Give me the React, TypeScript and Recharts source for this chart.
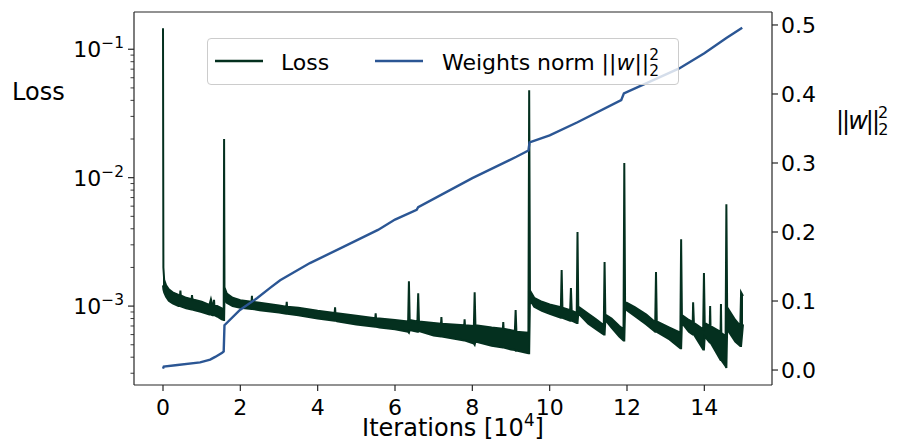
import React from 'react';
import { ComposedChart, Area, Line, XAxis, YAxis, Legend, ReferenceLine } from 'recharts';

const FONT = '"DejaVu Sans", sans-serif';
const LOSS_COLOR = '#04301f';
const NORM_COLOR = '#2b5694';
const AXIS_COLOR = '#262626';

// iterations are in units of 1e4; every spike is a narrow triple of points
const lossIters = [
  0.0, 0.01, 0.03, 0.08, 0.15, 0.25, 0.4, 0.44, 0.45, 0.46, 0.6, 0.74, 0.75, 0.76, 0.8, 1.0, 1.2, 1.24, 1.28, 1.31, 1.32, 1.33, 1.4, 1.52, 1.57, 1.58,
  1.59, 1.65, 1.8, 2.0, 2.29, 2.3, 2.31, 2.5, 3.0, 3.19, 3.2, 3.21, 3.5, 4.0, 4.44, 4.45, 4.46, 4.5, 5.0, 5.49, 5.5, 5.51, 5.6, 6.0, 6.34, 6.36, 6.38, 6.58, 6.6, 6.62,
  7.0, 7.19, 7.2, 7.21, 7.5, 7.79, 7.8, 7.81, 8.04, 8.06, 8.08, 8.5, 8.79, 8.8, 8.81, 9.0, 9.1, 9.12, 9.14, 9.45, 9.47,
  9.49, 9.6, 9.8, 10.0, 10.29, 10.31, 10.33, 10.53, 10.55, 10.57, 10.7, 10.72, 10.74,
  11.0, 11.2, 11.4, 11.42, 11.44, 11.6, 11.8, 11.91, 11.93,
  11.95, 12.2, 12.5, 12.73, 12.75, 12.77, 13.1, 13.38, 13.4, 13.42, 13.6, 13.7, 13.71, 13.73,
  13.97, 13.99, 14.01, 14.14, 14.15, 14.16, 14.42, 14.43, 14.44, 14.55, 14.57, 14.59,
  14.8, 14.93, 14.95, 15.0,
];
const lossLow = [
  1.45e-3, 1.35e-3, 1.28e-3, 1.18e-3, 1.1e-3, 1.05e-3, 1.0e-3, 1.0e-3, 1.0e-3, 0.995e-3, 0.96e-3, 0.94e-3, 0.94e-3, 0.94e-3, 0.93e-3, 0.9e-3, 0.86e-3, 0.86e-3, 0.85e-3, 0.85e-3, 0.85e-3, 0.85e-3, 0.83e-3, 0.79e-3, 0.78e-3, 0.78e-3,
  1.15e-3, 1.06e-3, 1.0e-3, 0.97e-3, 0.95e-3, 0.95e-3, 0.95e-3, 0.93e-3, 0.89e-3, 0.87e-3, 0.87e-3, 0.87e-3, 0.85e-3, 0.8e-3, 0.77e-3, 0.77e-3, 0.77e-3, 0.76e-3, 0.72e-3, 0.69e-3, 0.69e-3, 0.69e-3, 0.68e-3, 0.66e-3, 0.63e-3, 0.62e-3, 0.65e-3, 0.63e-3, 0.63e-3, 0.64e-3,
  0.59e-3, 0.58e-3, 0.58e-3, 0.58e-3, 0.56e-3, 0.54e-3, 0.54e-3, 0.54e-3, 0.51e-3, 0.5e-3, 0.53e-3, 0.49e-3, 0.475e-3, 0.475e-3, 0.475e-3, 0.46e-3, 0.455e-3, 0.45e-3, 0.45e-3, 0.43e-3, 0.43e-3,
  1.12e-3, 0.99e-3, 0.92e-3, 0.87e-3, 0.81e-3, 0.81e-3, 0.81e-3, 0.77e-3, 0.77e-3, 0.77e-3, 0.74e-3, 0.74e-3, 0.88e-3,
  0.73e-3, 0.66e-3, 0.6e-3, 0.6e-3, 0.78e-3, 0.68e-3, 0.58e-3, 0.54e-3, 0.54e-3,
  0.95e-3, 0.84e-3, 0.72e-3, 0.63e-3, 0.63e-3, 0.63e-3, 0.55e-3, 0.47e-3, 0.47e-3, 0.74e-3, 0.63e-3, 0.6e-3, 0.6e-3, 0.6e-3,
  0.46e-3, 0.46e-3, 0.58e-3, 0.52e-3, 0.52e-3, 0.52e-3, 0.38e-3, 0.38e-3, 0.38e-3, 0.34e-3, 0.33e-3, 0.66e-3,
  0.53e-3, 0.49e-3, 0.49e-3, 0.72e-3,
];
const lossHigh = [
  0.146, 2.0e-3, 1.6e-3, 1.45e-3, 1.35e-3, 1.28e-3, 1.22e-3, 1.21e-3, 1.32e-3, 1.21e-3, 1.16e-3, 1.13e-3, 1.22e-3, 1.13e-3, 1.12e-3, 1.08e-3, 1.02e-3, 1.13e-3, 1.01e-3, 1.01e-3, 1.12e-3, 1.0e-3, 1.0e-3, 0.96e-3, 0.93e-3, 0.02,
  1.4e-3, 1.25e-3, 1.16e-3, 1.11e-3, 1.08e-3, 1.2e-3, 1.08e-3, 1.06e-3, 1.01e-3, 0.99e-3, 1.08e-3, 0.99e-3, 0.97e-3, 0.92e-3, 0.885e-3, 0.98e-3, 0.88e-3, 0.88e-3, 0.84e-3, 0.805e-3, 0.88e-3, 0.805e-3, 0.8e-3, 0.78e-3, 0.76e-3, 1.56e-3, 0.78e-3, 0.76e-3, 1.26e-3, 0.76e-3,
  0.74e-3, 0.73e-3, 0.82e-3, 0.73e-3, 0.72e-3, 0.71e-3, 0.79e-3, 0.71e-3, 0.7e-3, 1.28e-3, 0.71e-3, 0.68e-3, 0.665e-3, 0.75e-3, 0.665e-3, 0.65e-3, 0.64e-3, 0.93e-3, 0.63e-3, 0.62e-3, 0.048,
  1.32e-3, 1.16e-3, 1.08e-3, 1.03e-3, 0.98e-3, 1.91e-3, 0.97e-3, 0.93e-3, 1.38e-3, 0.92e-3, 0.88e-3, 3.77e-3, 0.99e-3,
  0.87e-3, 0.79e-3, 0.71e-3, 2.2e-3, 0.86e-3, 0.8e-3, 0.7e-3, 0.66e-3, 0.013,
  1.08e-3, 0.98e-3, 0.86e-3, 0.75e-3, 1.84e-3, 0.76e-3, 0.68e-3, 0.62e-3, 3.31e-3, 0.85e-3, 0.78e-3, 0.75e-3, 1.07e-3, 0.74e-3,
  0.66e-3, 1.81e-3, 0.74e-3, 0.7e-3, 1.0e-3, 0.7e-3, 0.63e-3, 1.04e-3, 0.62e-3, 0.58e-3, 6.22e-3, 0.98e-3,
  0.78e-3, 0.7e-3, 1.28e-3, 1.2e-3,
];

const normIters = [
  0.0, 0.02, 0.32, 0.96, 1.22, 1.35, 1.53, 1.57, 1.59, 1.99, 2.43, 2.77, 3.03, 3.8, 4.65, 5.56,
  6.0, 6.56, 6.6, 8.0, 9.14, 9.45, 9.48, 10.0, 10.72, 11.85, 11.92, 13.35, 14.0, 14.57, 14.98,
];
const normValues = [
  0.002, 0.005, 0.007, 0.011, 0.015, 0.019, 0.025, 0.027, 0.065, 0.087, 0.104, 0.119, 0.13, 0.155, 0.178, 0.203,
  0.218, 0.232, 0.236, 0.278, 0.309, 0.318, 0.33, 0.34, 0.359, 0.391, 0.401, 0.437, 0.459, 0.481, 0.496,
];

const xTicks = [0, 2, 4, 6, 8, 10, 12, 14];
const lossMajorTicks = [0.001, 0.01, 0.1];
const lossMinorTicks = [
  0.0003, 0.0004, 0.0005, 0.0006, 0.0007, 0.0008, 0.0009,
  0.002, 0.003, 0.004, 0.005, 0.006, 0.007, 0.008, 0.009,
  0.02, 0.03, 0.04, 0.05, 0.06, 0.07, 0.08, 0.09,
];
const normTicks = [0, 0.1, 0.2, 0.3, 0.4, 0.5];
const lossDomain = [2.43e-4, 0.195];

const lossRows = lossIters.map((it, i) => ({ it, band: [lossLow[i], lossHigh[i]] }));
const normRows = normIters.map((it, i) => ({ it, norm: normValues[i] }));

function IterTick(props: any) {
  const { x, y, payload } = props;
  return (
    <g>
      <line x1={x} x2={x} y1={y} y2={y + 6} stroke={AXIS_COLOR} strokeWidth={1.2} />
      <text x={x} y={y + 30} textAnchor="middle" fontSize={22} fontFamily={FONT} fill="#000">
        {payload.value}
      </text>
    </g>
  );
}

function LossTick(props: any) {
  const { x, y, payload } = props;
  const v = payload.value;
  const major = lossMajorTicks.includes(v);
  const exp = Math.round(Math.log10(v));
  return (
    <g>
      <line x1={x - (major ? 6 : 3.5)} x2={x} y1={y} y2={y} stroke={AXIS_COLOR} strokeWidth={major ? 1.2 : 0.9} />
      {major && (
        <text x={x - 10} y={y + 8} textAnchor="end" fontSize={22} fontFamily={FONT} fill="#000">
          10<tspan dy={-9} fontSize={15.4}>{'\u2212' + Math.abs(exp)}</tspan>
        </text>
      )}
    </g>
  );
}

function NormTick(props: any) {
  const { x, y, payload } = props;
  return (
    <g>
      <line x1={x} x2={x + 6} y1={y} y2={y} stroke={AXIS_COLOR} strokeWidth={1.2} />
      <text x={x + 9} y={y + 8} fontSize={22} fontFamily={FONT} fill="#000">
        {Number(payload.value).toFixed(1)}
      </text>
    </g>
  );
}

function LegendBox() {
  return (
    <div
      style={{
        width: 472,
        height: 47,
        boxSizing: 'border-box',
        border: '1px solid #cccccc',
        borderRadius: 4,
        background: 'rgba(255,255,255,0.8)',
      }}
    >
      <svg width={470} height={45} style={{ display: 'block' }}>
        <line x1={7} x2={55} y1={22} y2={22} stroke={LOSS_COLOR} strokeWidth={2.4} />
        <text x={73} y={31} fontSize={22} fontFamily={FONT} fill="#000">Loss</text>
        <line x1={167} x2={215} y1={22} y2={22} stroke={NORM_COLOR} strokeWidth={2.4} />
        <text x={234} y={31} fontSize={22} fontFamily={FONT} fill="#000">
          Weights norm ||<tspan fontStyle="italic">w</tspan>||
          <tspan dy={-10} fontSize={15.4}>2</tspan>
          <tspan dx={-9.8} dy={16} fontSize={15.4}>2</tspan>
        </text>
      </svg>
    </div>
  );
}

export default function App() {
  return (
    <div style={{ position: 'absolute', left: 0, top: 0, background: '#fff' }}>
      <ComposedChart width={903} height={442} margin={{ top: 12, right: 0, bottom: 0, left: 0 }}>
        <XAxis
          xAxisId="bottom"
          dataKey="it"
          type="number"
          domain={[-0.75, 15.75]}
          allowDataOverflow
          ticks={xTicks}
          interval={0}
          height={57}
          tickSize={0}
          tickMargin={0}
          tickLine={false}
          tick={<IterTick />}
          axisLine={{ stroke: AXIS_COLOR, strokeWidth: 1.2 }}
          label={{
            content: () => (
              <text x={453} y={436} textAnchor="middle" fontSize={24} fontFamily={FONT} fill="#000">
                Iterations [10<tspan dy={-10} fontSize={16.8}>4</tspan><tspan dy={10}>]</tspan>
              </text>
            ),
          }}
        />
        <YAxis
          yAxisId="loss"
          type="number"
          scale="log"
          domain={lossDomain}
          allowDataOverflow
          ticks={[...lossMinorTicks, ...lossMajorTicks]}
          interval={0}
          width={134}
          tickSize={0}
          tickMargin={0}
          tickLine={false}
          tick={<LossTick />}
          axisLine={{ stroke: AXIS_COLOR, strokeWidth: 1.2 }}
          label={{
            content: () => (
              <text x={12} y={100} fontSize={24} fontFamily={FONT} fill="#000">Loss</text>
            ),
          }}
        />
        <YAxis
          yAxisId="norm"
          orientation="right"
          type="number"
          domain={[-0.0217, 0.5188]}
          allowDataOverflow
          ticks={normTicks}
          interval={0}
          width={131}
          tickSize={0}
          tickMargin={0}
          tickLine={false}
          tick={<NormTick />}
          axisLine={{ stroke: AXIS_COLOR, strokeWidth: 1.2 }}
          label={{
            content: () => (
              <text x={836} y={129} fontSize={24} fontFamily={FONT} fill="#000" letterSpacing={-2}>
                ||<tspan fontStyle="italic">w</tspan>||
                <tspan dy={-11} fontSize={16} letterSpacing={0}>2</tspan>
                <tspan dx={-10} dy={17} fontSize={16} letterSpacing={0}>2</tspan>
              </text>
            ),
          }}
        />
        <ReferenceLine
          xAxisId="bottom"
          yAxisId="loss"
          y={lossDomain[1]}
          stroke={AXIS_COLOR}
          strokeWidth={1.2}
          ifOverflow="visible"
        />
        <Area
          xAxisId="bottom"
          yAxisId="loss"
          data={lossRows}
          dataKey="band"
          type="linear"
          stroke={LOSS_COLOR}
          strokeWidth={2}
          fill={LOSS_COLOR}
          fillOpacity={1}
          dot={false}
          activeDot={false}
          isAnimationActive={false}
          name="Loss"
        />
        <Line
          xAxisId="bottom"
          yAxisId="norm"
          data={normRows}
          dataKey="norm"
          type="linear"
          stroke={NORM_COLOR}
          strokeWidth={2.4}
          dot={false}
          activeDot={false}
          isAnimationActive={false}
          name="Weights norm"
        />
        <Legend
          layout="horizontal"
          verticalAlign="middle"
          align="center"
          width={472}
          height={47}
          wrapperStyle={{ left: 207, top: 38, width: 472, height: 47 }}
          content={() => <LegendBox />}
        />
      </ComposedChart>
    </div>
  );
}
